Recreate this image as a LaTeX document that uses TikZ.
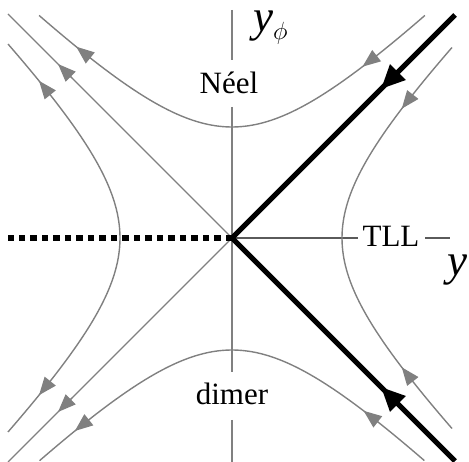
\documentclass[tikz,border=0pt]{standalone}
\usepackage{fontspec}
\setmainfont{Liberation Serif}
\usetikzlibrary{arrows.meta,calc}
\definecolor{flowgray}{RGB}{128,128,128}
\definecolor{axisgray}{RGB}{90,90,90}
\begin{document}
\begin{tikzpicture}[x=1pt,y=-1pt,
  flow/.style={draw=flowgray, line width=1.4pt},
  vaxis/.style={draw=flowgray, line width=1.5pt},
  haxis/.style={draw=axisgray, line width=1.1pt},
  gtip/.style={draw=flowgray, line width=1.4pt, -{Triangle[length=18pt,width=14pt]}, fill=flowgray},
  btip/.style={draw=black, line width=5pt, -{Triangle[length=24pt,width=21pt]}},
  thick line/.style={draw=black, line width=5pt},
  dotline/.style={draw=black, line width=6pt, dash pattern=on 6.5pt off 5pt},
  lab/.style={inner sep=0pt, font=\fontsize{31}{31}\selectfont},
  axlab/.style={inner sep=0pt, font=\fontsize{45}{45}\selectfont\itshape},
]
\useasboundingbox (0,0) rectangle (469,462);

% origin and axis points
\coordinate (O) at (232,238);
\coordinate (vtop) at (232,10);
\coordinate (vgap1) at (232,60);
\coordinate (vgap2) at (232,107);
\coordinate (vgap3) at (232,372);
\coordinate (vgap4) at (232,420);
\coordinate (vbot) at (232,462);
\coordinate (hgap1) at (358,238);
\coordinate (hgap2) at (425,238);
\coordinate (hend) at (450,238);
\coordinate (dotend) at (8,238);

% vertical axis
\draw[vaxis] (vtop) -- (vgap1);
\draw[vaxis] (vgap2) -- (vgap3);
\draw[vaxis] (vgap4) -- (vbot);
% horizontal axis
\draw[haxis] (O) -- (hgap1);
\draw[haxis] (hgap2) -- (hend);

% hyperbolas
\draw[flow] plot[domain=-1.32:1.32, samples=80, variable=\t] ({232+111*sinh(\t)},{238-111*cosh(\t)});
\draw[flow] plot[domain=-1.31:1.31, samples=80, variable=\t] ({232+112*sinh(\t)},{238+112*cosh(\t)});
\draw[flow] plot[domain=-1.317:1.317, samples=80, variable=\t] ({232+110*cosh(\t)},{238-110*sinh(\t)});
\draw[flow] plot[domain=-1.317:1.317, samples=80, variable=\t] ({232-112*cosh(\t)},{238-112*sinh(\t)});

% diagonal separatrices (left)
\coordinate (ul) at (8,14);
\coordinate (ll) at (8,462);
\draw[flow] (O) -- (ul);
\draw[flow] (O) -- (ll);

% thick black separatrices (right)
\coordinate (ur) at (455,15);
\coordinate (lr) at (455,461);
\draw[thick line] (O) -- (ur);
\draw[thick line] (O) -- (lr);

% dotted line
\draw[dotline] (O) -- (dotend);

% arrow tips on hyperbolas
% top branch (towards decreasing t)
\coordinate (ta1) at ({232+111*sinh(1.08)},{238-111*cosh(1.08)});
\coordinate (tb1) at ({232+111*sinh(1.0)},{238-111*cosh(1.0)});
\coordinate (ta2) at ({232+111*sinh(-1.07)},{238-111*cosh(-1.07)});
\coordinate (tb2) at ({232+111*sinh(-1.14)},{238-111*cosh(-1.14)});
\draw[gtip] (ta1) -- (tb1);
\draw[gtip] (ta2) -- (tb2);
% bottom branch
\coordinate (ba1) at ({232+112*sinh(1.08)},{238+112*cosh(1.08)});
\coordinate (bb1) at ({232+112*sinh(1.0)},{238+112*cosh(1.0)});
\coordinate (ba2) at ({232+112*sinh(-1.07)},{238+112*cosh(-1.07)});
\coordinate (bb2) at ({232+112*sinh(-1.14)},{238+112*cosh(-1.14)});
\draw[gtip] (ba1) -- (bb1);
\draw[gtip] (ba2) -- (bb2);
% right branch (towards vertex)
\coordinate (ra1) at ({232+110*cosh(1.08)},{238-110*sinh(1.08)});
\coordinate (rb1) at ({232+110*cosh(1.0)},{238-110*sinh(1.0)});
\coordinate (ra2) at ({232+110*cosh(-1.08)},{238-110*sinh(-1.08)});
\coordinate (rb2) at ({232+110*cosh(-1.0)},{238-110*sinh(-1.0)});
\draw[gtip] (ra1) -- (rb1);
\draw[gtip] (ra2) -- (rb2);
% left branch (away from vertex)
\coordinate (la1) at ({232-112*cosh(1.07)},{238-112*sinh(1.07)});
\coordinate (lb1) at ({232-112*cosh(1.14)},{238-112*sinh(1.14)});
\coordinate (la2) at ({232-112*cosh(-1.07)},{238-112*sinh(-1.07)});
\coordinate (lb2) at ({232-112*cosh(-1.14)},{238-112*sinh(-1.14)});
\draw[gtip] (la1) -- (lb1);
\draw[gtip] (la2) -- (lb2);
% diagonal arrows
\coordinate (da1) at (72,78);
\coordinate (db1) at (58,64);
\coordinate (da2) at (72,398);
\coordinate (db2) at (58,412);
\draw[gtip] (da1) -- (db1);
\draw[gtip] (da2) -- (db2);
% black arrows
\coordinate (ka1) at (398,72);
\coordinate (kb1) at (381,89);
\coordinate (ka2) at (398,404);
\coordinate (kb2) at (381,387);
\draw[btip] (ka1) -- (kb1);
\draw[btip] (ka2) -- (kb2);

% labels
\node[lab, anchor=base] (neel) at (229,94) {Néel};
\node[lab, anchor=base] (dimer) at (232,405) {dimer};
\node[lab, anchor=base] (tll) at (391,247) {TLL};
\node[axlab, anchor=base west] (yphi) at (253,32) {y\raisebox{-8pt}{\fontsize{28}{28}\selectfont$\phi$}};
\node[axlab, anchor=base west] (ylab) at (447,276) {y};
\end{tikzpicture}
\end{document}
